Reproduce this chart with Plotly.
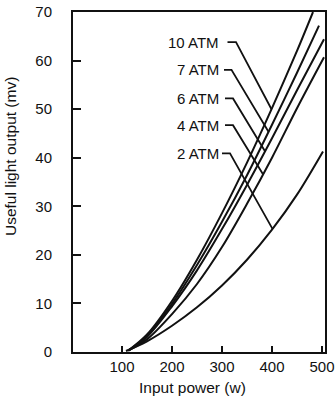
import numpy as np
import plotly.graph_objects as go

# Useful light output (mv) against input power (w) at several fill pressures
series_names = ["10 ATM", "7 ATM", "6 ATM", "4 ATM", "2 ATM"]
power_10 = [114, 150, 200, 250, 300, 350, 400, 450, 482]
light_10 = [0.4, 3.6, 10.5, 19.0, 28.6, 39.0, 50.2, 62.0, 70.0]
power_7 = [114, 150, 200, 250, 300, 350, 400, 450, 494]
light_7 = [0.4, 3.3, 9.9, 17.9, 26.8, 36.4, 46.8, 57.5, 67.2]
power_6 = [113, 150, 200, 250, 300, 350, 400, 450, 504]
light_6 = [0.3, 3.1, 9.4, 16.8, 25.3, 34.4, 44.0, 53.9, 64.4]
power_4 = [112, 150, 200, 250, 300, 350, 400, 450, 504]
light_4 = [0.3, 2.6, 7.8, 14.0, 21.6, 30.5, 40.0, 50.2, 60.7]
power_2 = [108, 150, 200, 250, 300, 350, 400, 450, 502]
light_2 = [0.2, 2.2, 5.4, 9.2, 13.7, 19.0, 25.2, 32.4, 41.3]

x_ticks = [100, 200, 300, 400, 500]
y_ticks = [0, 10, 20, 30, 40, 50, 60, 70]

curves = [(power_10, light_10), (power_7, light_7), (power_6, light_6),
          (power_4, light_4), (power_2, light_2)]

# callout layout: label height, leader start/end and the power where it meets its curve
label_y = [63.8, 58.1, 52.2, 46.7, 40.9]
label_right = 298
leader_x0 = [311, 304, 306, 306, 300]
leader_x1 = [328, 319, 322, 322, 316]
leader_hit = [399, 393, 386, 382, 401]

FONT = "Liberation Sans, Arial, Helvetica, sans-serif"
INK = "#111111"

fig = go.Figure()

for (xs, ys) in curves:
    fig.add_trace(go.Scatter(
        x=xs, y=ys, mode="lines",
        line=dict(color=INK, width=2, shape="spline", smoothing=0.9),
        showlegend=False, hoverinfo="skip"))

for i, name in enumerate(series_names):
    xs, ys = curves[i]
    hit_y = float(np.interp(leader_hit[i], xs, ys))
    fig.add_trace(go.Scatter(
        x=[leader_x0[i], leader_x1[i], leader_hit[i]],
        y=[label_y[i], label_y[i], hit_y],
        mode="lines", line=dict(color=INK, width=1.8),
        showlegend=False, hoverinfo="skip"))
    fig.add_annotation(x=label_right, y=label_y[i], xref="x", yref="y",
                       text=name, showarrow=False, xanchor="right", yanchor="middle",
                       font=dict(family=FONT, size=15, color=INK))

fig.add_annotation(x=-0.25, y=0.5735, xref="paper", yref="paper",
                   text="Useful light output (mv)", textangle=-90, showarrow=False,
                   xanchor="center", yanchor="middle",
                   font=dict(family=FONT, size=15.5, color=INK))
fig.add_annotation(x=0.475, y=-0.105, xref="paper", yref="paper",
                   text="Input power (w)", showarrow=False,
                   xanchor="center", yanchor="middle",
                   font=dict(family=FONT, size=15.5, color=INK))

fig.update_xaxes(range=[2, 506], tickvals=x_ticks, ticks="inside", ticklen=6,
                 tickwidth=2, tickcolor=INK, showline=True, linecolor=INK,
                 linewidth=2, mirror=True, showgrid=False, zeroline=False,
                 automargin=False,
                 tickfont=dict(family=FONT, size=15, color=INK))
fig.update_yaxes(range=[0, 70], tickvals=y_ticks, ticks="inside", ticklen=8,
                 tickwidth=2, tickcolor=INK, showline=True, linecolor=INK,
                 linewidth=2, mirror=True, showgrid=False, zeroline=False,
                 ticklabelstandoff=16, automargin=False,
                 tickfont=dict(family=FONT, size=15, color=INK))

fig.update_layout(width=336, height=400,
                  margin=dict(l=73, r=11, t=12, b=48),
                  plot_bgcolor="white", paper_bgcolor="white",
                  showlegend=False)

fig.write_html("out.html")
